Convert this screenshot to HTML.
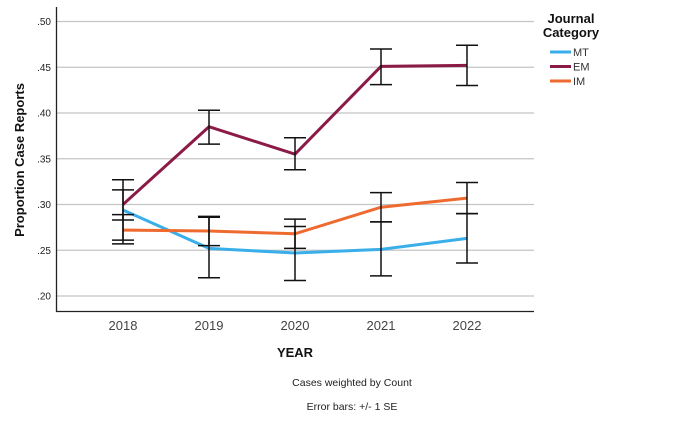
<!DOCTYPE html>
<html><head><meta charset="utf-8"><style>
body{margin:0;background:#fff;width:685px;height:420px;overflow:hidden}
svg{font-family:"Liberation Sans",Arial,sans-serif}
</style></head><body>
<svg id="chart" width="685" height="420"></svg>
<script>
const years=["2018","2019","2020","2021","2022"];
const seriesNames=["MT","EM","IM"];
const mtVals=[0.294,0.252,0.247,0.251,0.263];
const mtLo=[0.261,0.220,0.217,0.222,0.236];
const mtHi=[0.327,0.287,0.276,0.281,0.290];
const emVals=[0.300,0.385,0.355,0.451,0.452];
const emLo=[0.283,0.366,0.338,0.431,0.430];
const emHi=[0.316,0.403,0.373,0.470,0.474];
const imVals=[0.272,0.271,0.268,0.297,0.307];
const imLo=[0.257,0.255,0.252,0.281,0.290];
const imHi=[0.289,0.286,0.284,0.313,0.324];
const yTicks=[0.20,0.25,0.30,0.35,0.40,0.45,0.50];
const yTickLabels=[".20",".25",".30",".35",".40",".45",".50"];
const colors=["#3aaee8","#8b1a47","#ee6a2e"];

const NS="http://www.w3.org/2000/svg";
const svg=document.getElementById('chart');
function mk(t,a,p){const e=document.createElementNS(NS,t);for(const k in a)e.setAttribute(k,a[k]);(p||svg).appendChild(e);return e;}
const X0=123,XS=86;
function xs(i){return X0+i*XS;}
function ys(v){return 296-(v-0.20)*915;}

yTicks.forEach((t,i)=>{
  const g=mk('line',{x1:57,x2:534,y1:ys(t),y2:ys(t),stroke:'#c4c4c4','stroke-width':1.3});
  
  
  const l=mk('text',{x:51,y:ys(t)+3.5,'text-anchor':'end','font-size':10,fill:'#222'});
  l.textContent=yTickLabels[i];
  
  
});
const ax=mk('path',{d:'M56.5 7 V311.5 H534',fill:'none',stroke:'#222','stroke-width':1.3});


years.forEach((y,i)=>{
  const t=mk('text',{x:xs(i),y:330,'text-anchor':'middle','font-size':13,fill:'#444'});
  t.textContent=y;
  
  
});
const all=[[mtVals,mtLo,mtHi],[emVals,emLo,emHi],[imVals,imLo,imHi]];
all.forEach((s,si)=>{
  const d=s[0].map((v,i)=>(i?'L':'M')+xs(i)+' '+ys(v)).join(' ');
  const p=mk('path',{d:d,fill:'none',stroke:colors[si],'stroke-width':3});
  
  
});
all.forEach((s,si)=>{
  s[0].forEach((v,i)=>{
    const x=xs(i),a=ys(s[1][i]),b=ys(s[2][i]);
    const e=mk('path',{d:`M${x-11} ${a}H${x+11}M${x-11} ${b}H${x+11}M${x} ${a}V${b}`,fill:'none',stroke:'#111','stroke-width':1.5});
    
    
  });
});
// legend
[["Journal",23],["Category",37]].forEach(r=>{
  const t=mk('text',{x:571,y:r[1],'text-anchor':'middle','font-size':13,'font-weight':'bold',fill:'#111'});
  t.textContent=r[0];
  
  
});
seriesNames.forEach((n,i)=>{
  const y=52+i*14.5;
  const l=mk('line',{x1:550,x2:571,y1:y,y2:y,stroke:colors[i],'stroke-width':3});
  
  
  const t=mk('text',{x:573,y:y+4,'font-size':11,fill:'#333'});
  t.textContent=n;
  
  
});
const yt=mk('text',{transform:'translate(24,160) rotate(-90)','text-anchor':'middle','font-size':13,'font-weight':'bold',fill:'#111'});
yt.textContent='Proportion Case Reports';


const xt=mk('text',{x:295,y:357,'text-anchor':'middle','font-size':13,'font-weight':'bold',fill:'#111'});
xt.textContent='YEAR';


[["Cases weighted by Count",386],["Error bars: +/- 1 SE",410]].forEach(r=>{
  const t=mk('text',{x:352,y:r[1],'text-anchor':'middle','font-size':10.5,fill:'#222'});
  t.textContent=r[0];
  
  
});
</script>
</body></html>
